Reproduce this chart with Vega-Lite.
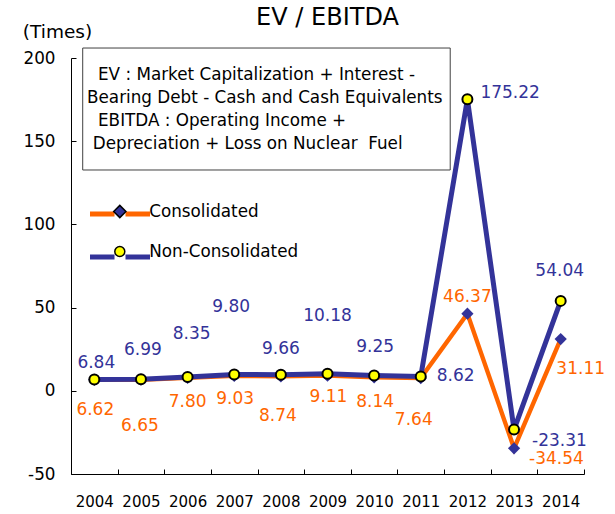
{
  "$schema": "https://vega.github.io/schema/vega-lite/v6.json",
  "width": 513,
  "height": 416,
  "autosize": "none",
  "padding": {"left": 71, "top": 58, "right": 31, "bottom": 40},
  "background": "white",
  "config": {
    "locale": {"number": {"decimal": ".", "thousands": ",", "grouping": [3], "currency": ["$", ""], "minus": "-"}},
    "view": {"stroke": null},
    "font": "DejaVu Sans",
    "axis": {"grid": false, "domainColor": "#000", "tickColor": "#000", "labelColor": "#000", "labelFont": "DejaVu Sans", "titleFont": "DejaVu Sans", "titleColor": "#000"}
  },
  "title": {"text": "EV / EBITDA", "fontSize": 24, "fontWeight": "normal", "font": "DejaVu Sans", "color": "#000", "anchor": "middle", "frame": "group", "offset": -27, "baseline": "alphabetic"},
  "data": {"values": [
    {"year": "2004", "series": "Consolidated", "value": 6.62},
    {"year": "2005", "series": "Consolidated", "value": 6.65},
    {"year": "2006", "series": "Consolidated", "value": 7.80},
    {"year": "2007", "series": "Consolidated", "value": 9.03},
    {"year": "2008", "series": "Consolidated", "value": 8.74},
    {"year": "2009", "series": "Consolidated", "value": 9.11},
    {"year": "2010", "series": "Consolidated", "value": 8.14},
    {"year": "2011", "series": "Consolidated", "value": 7.64},
    {"year": "2012", "series": "Consolidated", "value": 46.37},
    {"year": "2013", "series": "Consolidated", "value": -34.54},
    {"year": "2014", "series": "Consolidated", "value": 31.11},
    {"year": "2004", "series": "Non-Consolidated", "value": 6.84},
    {"year": "2005", "series": "Non-Consolidated", "value": 6.99},
    {"year": "2006", "series": "Non-Consolidated", "value": 8.35},
    {"year": "2007", "series": "Non-Consolidated", "value": 9.80},
    {"year": "2008", "series": "Non-Consolidated", "value": 9.66},
    {"year": "2009", "series": "Non-Consolidated", "value": 10.18},
    {"year": "2010", "series": "Non-Consolidated", "value": 9.25},
    {"year": "2011", "series": "Non-Consolidated", "value": 8.62},
    {"year": "2012", "series": "Non-Consolidated", "value": 175.22},
    {"year": "2013", "series": "Non-Consolidated", "value": -23.31},
    {"year": "2014", "series": "Non-Consolidated", "value": 54.04}
  ]},
  "encoding": {
    "x": {"field": "year", "type": "ordinal", "scale": {"type": "band", "paddingInner": 0, "paddingOuter": 0},
      "axis": {"title": null, "labelAngle": 0, "labelFontSize": 15, "labelPadding": 25, "tickBand": "extent", "tickSize": -5, "domainWidth": 1}},
    "y": {"field": "value", "type": "quantitative", "scale": {"domain": [-50, 200], "nice": false},
      "axis": {"title": "(Times)", "titleAngle": 0, "titleX": -14, "titleY": -27, "titleAlign": "center", "titleBaseline": "middle", "titleFontSize": 18.5, "titleFontWeight": "normal", "values": [-50, 0, 50, 100, 150, 200], "labelFontSize": 16.8, "tickSize": -5, "labelPadding": 21, "domainWidth": 1}}
  },
  "layer": [
    {
      "transform": [{"filter": "datum.year === '2004' && datum.series === 'Consolidated'"}],
      "mark": {"type": "rect", "fill": "white", "stroke": "#404040", "strokeWidth": 1, "xOffset": -11.6, "x2Offset": -17.2},
      "encoding": {
        "x": {"datum": "2004"},
        "x2": {"datum": "2012"},
        "y": {"datum": 206},
        "y2": {"datum": 132.7}
      }
    },
    {
      "transform": [{"filter": "datum.year === '2004' && datum.series === 'Consolidated'"}],
      "mark": {"type": "text", "text": "EV : Market Capitalization + Interest -", "align": "left", "baseline": "alphabetic", "fontSize": 16.8, "xOffset": 3.7, "color": "#000"},
      "encoding": {"x": {"datum": "2004"}, "y": {"datum": 186.8}}
    },
    {
      "transform": [{"filter": "datum.year === '2004' && datum.series === 'Consolidated'"}],
      "mark": {"type": "text", "text": "Bearing Debt - Cash and Cash Equivalents", "align": "left", "baseline": "alphabetic", "fontSize": 16.8, "xOffset": -7.3, "color": "#000"},
      "encoding": {"x": {"datum": "2004"}, "y": {"datum": 173.0}}
    },
    {
      "transform": [{"filter": "datum.year === '2004' && datum.series === 'Consolidated'"}],
      "mark": {"type": "text", "text": "EBITDA : Operating Income +", "align": "left", "baseline": "alphabetic", "fontSize": 16.8, "xOffset": 3.7, "color": "#000"},
      "encoding": {"x": {"datum": "2004"}, "y": {"datum": 159.1}}
    },
    {
      "transform": [{"filter": "datum.year === '2004' && datum.series === 'Consolidated'"}],
      "mark": {"type": "text", "text": "Depreciation + Loss on Nuclear\u00a0 Fuel", "align": "left", "baseline": "alphabetic", "fontSize": 16.8, "xOffset": -1.5, "color": "#000"},
      "encoding": {"x": {"datum": "2004"}, "y": {"datum": 145.3}}
    },
    {
      "mark": {"type": "line"},
      "encoding": {
        "stroke": {"field": "series", "type": "nominal", "scale": {"range": ["#FF6600", "#333399"]},
          "legend": {"orient": "none", "legendX": 36.5, "legendY": 143.5, "title": null, "symbolType": "M-3,0H-0.55M0.55,0H3", "symbolSize": 400, "symbolStrokeWidth": 5, "labelExpr": "''", "labelFontSize": 16.8, "rowPadding": 20, "padding": 0}},
        "strokeWidth": {"condition": {"test": "datum.series === 'Consolidated'", "value": 4.4}, "value": 5}
      }
    },
    {
      "mark": {"type": "point", "filled": true, "opacity": 1, "stroke": "black"},
      "encoding": {
        "shape": {"field": "series", "type": "nominal", "scale": {"domain": ["Consolidated", "Non-Consolidated"], "range": ["diamond", "circle"]}},
        "size": {"field": "series", "type": "nominal", "scale": {"domain": ["Consolidated", "Non-Consolidated"], "range": [150, 100]}},
        "fill": {"field": "series", "type": "nominal", "scale": {"domain": ["Consolidated", "Non-Consolidated"], "range": ["#333399", "#FFFF00"]},
          "legend": {"orient": "none", "legendX": 40.4, "legendY": 143.5, "title": null, "clipHeight": 20, "rowPadding": 20, "padding": 0, "labelFontSize": 16.8, "labelFont": "DejaVu Sans", "labelOffset": 21, "symbolOpacity": 1,
            "encode": {
              "labels": {"update": {"fill": {"signal": "datum.value === 'Consolidated' ? '#FF6600' : '#333399'"}}},
              "symbols": {"update": {"stroke": {"signal": "datum.value === 'Consolidated' ? 'transparent' : 'black'"}, "strokeWidth": {"signal": "datum.value === 'Consolidated' ? 0 : 2"}}}
            }}},
        "strokeWidth": {"condition": {"test": "datum.series === 'Non-Consolidated'", "value": 2}, "value": 0}
      }
    },
    {
      "transform": [{"filter": "datum.series === 'Non-Consolidated'"}],
      "mark": {"type": "text", "fontSize": 17, "color": "#333399", "baseline": "middle",
        "dx": {"expr": "[2,2,4,-3,0,0,1,16,13,18,-1][toNumber(datum.year)-2004]"},
        "dy": {"expr": "[-16,-29,-43,-67,-26,-58,-28,0,-6,11,-30][toNumber(datum.year)-2004]"},
        "align": {"expr": "['center','center','center','center','center','center','center','left','left','left','center'][toNumber(datum.year)-2004]"}},
      "encoding": {"text": {"field": "value", "type": "quantitative", "format": ".2f"}}
    },
    {
      "transform": [{"filter": "datum.series === 'Consolidated'"}],
      "mark": {"type": "text", "fontSize": 17, "color": "#FF6600", "baseline": "middle",
        "dx": {"expr": "[1,-1,0,1,-3,1,1,-7,0,15,20][toNumber(datum.year)-2004]"},
        "dy": {"expr": "[30,46,24,23,40,21,25,42,-17,11,30][toNumber(datum.year)-2004]"},
        "align": {"expr": "['center','center','center','center','center','center','center','center','center','left','center'][toNumber(datum.year)-2004]"}},
      "encoding": {"text": {"field": "value", "type": "quantitative", "format": ".2f"}}
    }
  ]
}
